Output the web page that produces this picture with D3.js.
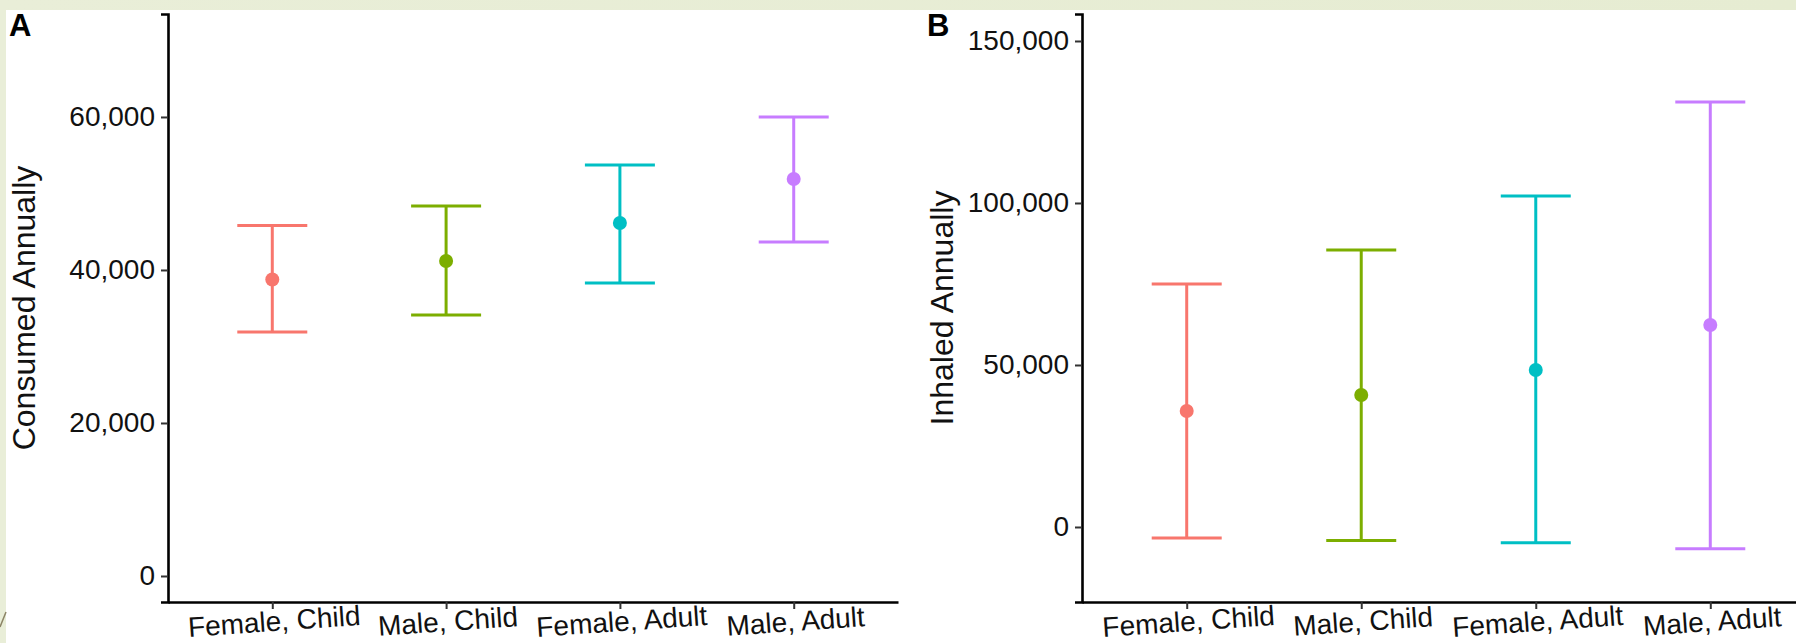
<!DOCTYPE html>
<html>
<head>
<meta charset="utf-8">
<script src="https://cdn.jsdelivr.net/npm/d3@7"></script>
<style>
  body { margin: 0; background: #fff; }
  svg { display: block; font-family: "Liberation Sans", Arial, sans-serif; }
</style>
</head>
<body>
<svg id="chart" width="1796" height="643"></svg>
<script>
// groups and colours (ggplot default hues)
const groups = ["Female, Child", "Male, Child", "Female, Adult", "Male, Adult"];
const colors = ["#F8766D", "#7CAE00", "#00BFC4", "#C77CFF"];

// panel A: consumed annually
const consumedMean = [38760, 41180, 46150, 51900];
const consumedLower = [31900, 34120, 38300, 43660];
const consumedUpper = [45800, 48370, 53730, 60000];
const consumedTicks = [0, 20000, 40000, 60000];

// panel B: inhaled annually
const inhaledMean = [35800, 40740, 48460, 62350];
const inhaledLower = [-3400, -4200, -4900, -6700];
const inhaledUpper = [75000, 85500, 102160, 131170];
const inhaledTicks = [0, 50000, 100000, 150000];

const svg = d3.select("#chart");

// slide background: pale green border, white card
const defs = svg.append("defs");
const grad = defs.append("linearGradient").attr("id", "bg").attr("x1", 0).attr("x2", 1).attr("y1", 0).attr("y2", 0);
grad.append("stop").attr("offset", "0%").attr("stop-color", "#e9eed8");
grad.append("stop").attr("offset", "100%").attr("stop-color", "#e6ecd2");
svg.append("rect").attr("width", 1796).attr("height", 643).attr("fill", "url(#bg)");
svg.append("rect").attr("x", 6).attr("y", 10).attr("width", 1790).attr("height", 633).attr("fill", "#fff");
svg.append("line")
  .attr("x1", 0).attr("y1", 627).attr("x2", 6).attr("y2", 612)
  .attr("stroke", "#8c8466").attr("stroke-width", 1.5);

const plotTop = 14, plotBottom = 602;
const fmt = d3.format(",");

function panel(opts) {
  const x = d3.scalePoint().domain(groups).range([opts.x0, opts.x1]).padding(0.6);
  const y = d3.scaleLinear().domain(opts.domain).range([plotBottom, plotTop]);
  const g = svg.append("g");

  // y axis
  const ya = g.append("g")
    .attr("transform", `translate(${opts.x0},0)`)
    .call(d3.axisLeft(y).tickValues(opts.ticks).tickFormat(fmt).tickSize(7).tickPadding(6));
  ya.select(".domain").attr("stroke", "#000").attr("stroke-width", 2.6);
  ya.selectAll(".tick line").attr("stroke", "#333").attr("stroke-width", 2);
  ya.selectAll(".tick text").attr("font-size", 28).attr("fill", "#111").attr("font-family", null);

  // x axis
  const xa = g.append("g")
    .attr("transform", `translate(0,${plotBottom})`)
    .call(d3.axisBottom(x).tickSize(7).tickSizeOuter(0).tickPadding(0));
  xa.select(".domain").attr("stroke", "#000").attr("stroke-width", 2.6);
  xa.selectAll(".tick line").attr("stroke", "#333").attr("stroke-width", 2);
  xa.selectAll(".tick text")
    .attr("font-size", 28).attr("fill", "#111").attr("font-family", null)
    .attr("dy", null).attr("y", 29)
    .attr("transform", "rotate(-4)")
    .attr("text-anchor", "middle");

  // error bars
  const data = groups.map((k, i) => ({
    key: k, mean: opts.mean[i], lo: opts.lower[i], hi: opts.upper[i], color: colors[i]
  }));
  const bars = g.append("g").selectAll("g").data(data).join("g")
    .attr("stroke", d => d.color).attr("stroke-width", 3);
  bars.append("line")
    .attr("x1", d => x(d.key)).attr("x2", d => x(d.key))
    .attr("y1", d => y(d.lo)).attr("y2", d => y(d.hi));
  bars.append("line")
    .attr("x1", d => x(d.key) - 35).attr("x2", d => x(d.key) + 35)
    .attr("y1", d => y(d.hi)).attr("y2", d => y(d.hi));
  bars.append("line")
    .attr("x1", d => x(d.key) - 35).attr("x2", d => x(d.key) + 35)
    .attr("y1", d => y(d.lo)).attr("y2", d => y(d.lo));
  bars.append("circle")
    .attr("cx", d => x(d.key)).attr("cy", d => y(d.mean)).attr("r", 7)
    .attr("fill", d => d.color).attr("stroke", "none");

  // axis title
  g.append("text")
    .attr("transform", `translate(${opts.titleX},${(plotTop + plotBottom) / 2}) rotate(-90)`)
    .attr("text-anchor", "middle")
    .attr("dominant-baseline", "central")
    .attr("font-size", 32).attr("fill", "#111")
    .text(opts.title);

  // panel letter
  g.append("text")
    .attr("x", opts.letterX).attr("y", 36)
    .attr("font-size", 31).attr("font-weight", "bold").attr("fill", "#000")
    .text(opts.letter);
}

panel({
  x0: 168, x1: 898, domain: [-3400, 73460], ticks: consumedTicks,
  mean: consumedMean, lower: consumedLower, upper: consumedUpper,
  title: "Consumed Annually", titleX: 24, letter: "A", letterX: 9
});

panel({
  x0: 1082, x1: 1815, domain: [-23150, 158330], ticks: inhaledTicks,
  mean: inhaledMean, lower: inhaledLower, upper: inhaledUpper,
  title: "Inhaled Annually", titleX: 942, letter: "B", letterX: 927
});
</script>
</body>
</html>
